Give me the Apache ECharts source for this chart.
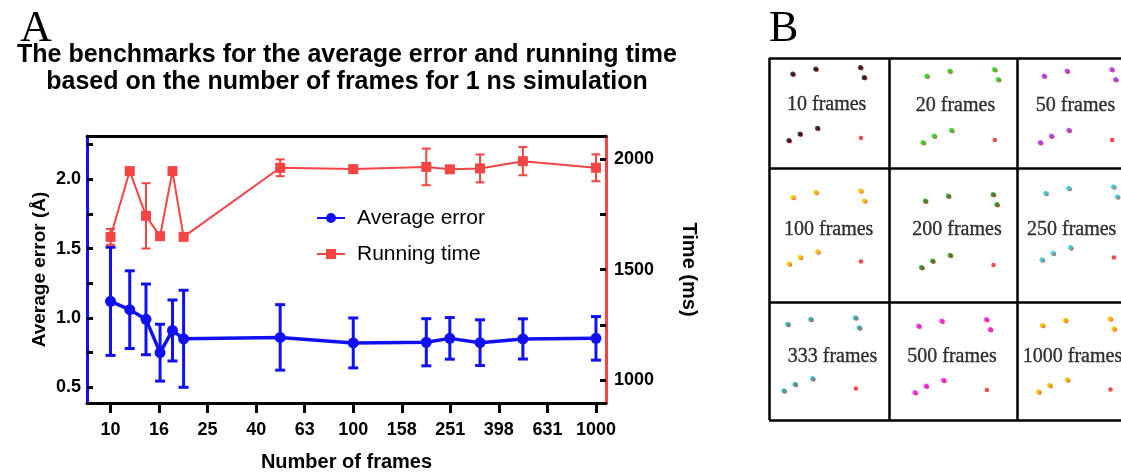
<!DOCTYPE html>
<html><head><meta charset="utf-8">
<script src="https://cdn.jsdelivr.net/npm/echarts@6/dist/echarts.min.js"></script>
<style>html,body{margin:0;padding:0;background:#fff}#c{width:1121px;height:472px}</style>
</head><body><div id="c"></div>
<script>
// ---------------- data ----------------
const frames     = [10, 12, 14, 16, 18, 20, 50, 100, 200, 250, 333, 500, 1000];
const avgError   = [1.12, 1.06, 0.99, 0.75, 0.91, 0.85, 0.86, 0.82, 0.825, 0.853, 0.822, 0.849, 0.853];
const avgErrorSD = [0.39, 0.28, 0.255, 0.205, 0.22, 0.35, 0.236, 0.18, 0.17, 0.15, 0.165, 0.145, 0.157];
const runTime    = [1649, 1947, 1744, 1652, 1947, 1649, 1962, 1956, 1966, 1955, 1959, 1992, 1962];
const runTimeSD  = [36, 4, 148, 4, 4, 4, 38, 4, 83, 8, 63, 64, 61];

const xTickValues = [10, 15.85, 25.12, 39.81, 63.1, 100, 158.5, 251.2, 398.1, 631, 1000];
const xTickLabels = ['10', '16', '25', '40', '63', '100', '158', '251', '398', '631', '1000'];
const errTicks    = [0.5, 0.75, 1, 1.25, 1.5, 1.75, 2, 2.25];
const errLabels   = [0.5, 1, 1.5, 2];
const timeTicks   = [1000, 1250, 1500, 1750, 2000];
const timeLabels  = [1000, 1500, 2000];

const cellLabels = ['10 frames', '20 frames', '50 frames', '100 frames', '200 frames', '250 frames', '333 frames', '500 frames', '1000 frames'];
const cellColors = ['#111111', '#22dd22', '#a040f0', '#f2d600', '#1f8f1f', '#20d8e0', '#1cb4b4', '#ee22ee', '#f5c800'];
// reference atom arrangement (relative to first atom, px units of panel B)
const atomPattern = [[0, 0], [23, -5], [67.7, -6.6], [71.5, 3.5], [-3.8, 66.5], [7.3, 60], [24.8, 54.3], [67.2, 63.3]];

// ---------------- layout (panel B, in panel-B pixel units) ----------------
const cellAnchor = [[23.7, 16], [157.7, 18], [275, 18], [23.7, 139.3], [156.3, 143], [276.7, 135.3], [18.7, 266.3], [149.7, 268], [273.3, 267.3]];
const cellTextPos = [[57.7, 47], [186.5, 48], [306.5, 48], [59.7, 172], [188, 172], [302.7, 172], [63.5, 298.7], [183, 298.7], [303.5, 298.7]];
const colEdges = [0, 120, 248];
const rowEdges = [0, 110, 244, 362];

const BLUE = '#1010f0';
const RED = '#f44545';
const SANS = '"Liberation Sans", Arial, sans-serif';
const SERIF = '"Liberation Serif", "Times New Roman", serif';

function xLabel(v) {
  let best = 0, bd = Infinity;
  xTickValues.forEach((t, i) => { const d = Math.abs(Math.log(v) - Math.log(t)); if (d < bd) { bd = d; best = i; } });
  return xTickLabels[best];
}

function errRender(halfCap, color, width) {
  return function (params, api) {
    const x = api.value(0), lo = api.value(1), hi = api.value(2);
    const pLo = api.coord([x, lo]), pHi = api.coord([x, hi]);
    const style = { stroke: color, lineWidth: width, fill: null };
    return {
      type: 'group', children: [
        { type: 'line', shape: { x1: pLo[0], y1: pLo[1], x2: pHi[0], y2: pHi[1] }, style },
        { type: 'line', shape: { x1: pLo[0] - halfCap, y1: pLo[1], x2: pLo[0] + halfCap, y2: pLo[1] }, style },
        { type: 'line', shape: { x1: pHi[0] - halfCap, y1: pHi[1], x2: pHi[0] + halfCap, y2: pHi[1] }, style }
      ]
    };
  };
}

const errBars = frames.map((f, i) => [f, avgError[i] - avgErrorSD[i], avgError[i] + avgErrorSD[i]]);
const timeBars = frames.map((f, i) => [f, runTime[i] - runTimeSD[i], runTime[i] + runTimeSD[i]]);

// panel B atoms
const predAtoms = [], refAtoms = [];
cellLabels.forEach((lab, c) => {
  const a = cellAnchor[c];
  atomPattern.forEach((p, i) => {
    refAtoms.push({ value: [a[0] + p[0] + 1, a[1] + p[1] + 0.8] });
    if (i < 7) predAtoms.push({ value: [a[0] + p[0], a[1] + p[1]], itemStyle: { color: cellColors[c] } });
  });
});
const cellText = cellLabels.map((lab, c) => ({ value: cellTextPos[c], name: lab }));

const chart = echarts.init(document.getElementById('c'), null, { renderer: 'canvas' });
chart.setOption({
  animation: false,
  backgroundColor: '#fff',
  graphic: [
    { type: 'text', x: 20, y: 29, style: { text: 'A', font: '44px ' + SERIF, fill: '#000', verticalAlign: 'middle' } },
    { type: 'text', x: 769, y: 29, style: { text: 'B', font: '44px ' + SERIF, fill: '#000', verticalAlign: 'middle' } },
    { type: 'text', x: 347, y: 69, style: {
        text: 'The benchmarks for the average error and running time\nbased on the number of frames for 1 ns simulation',
        font: 'bold 25px ' + SANS, lineHeight: 27, fill: '#000', align: 'center', verticalAlign: 'middle' } }
  ],
  legend: {
    orient: 'vertical', left: 311, top: 201,
    itemWidth: 28, itemHeight: 12.5, itemGap: 12,
    data: ['Average error', 'Running time'],
    textStyle: { fontSize: 21, fontFamily: SANS, color: '#000', lineHeight: 24, padding: [0, 0, 0, 7] }
  },
  grid: [
    { left: 87, top: 136, width: 519, height: 267, outerBoundsMode: 'none', containLabel: false },
    { left: 769, top: 58, width: 376, height: 362, outerBoundsMode: 'none', containLabel: false, show: false }
  ],
  xAxis: [
    {
      type: 'log', logBase: 10, gridIndex: 0, position: 'bottom', min: 8, max: 1100,
      axisLine: { show: true, onZero: false, lineStyle: { color: '#000', width: 3 } },
      axisTick: { show: true, customValues: xTickValues, length: 10, lineStyle: { color: '#000', width: 3 } },
      axisLabel: { customValues: xTickValues, formatter: xLabel, color: '#000', fontWeight: 'bold', fontSize: 18, fontFamily: SANS, margin: 18 },
      splitLine: { show: false }, minorTick: { show: false },
      name: 'Number of frames', nameLocation: 'middle', nameGap: 49,
      nameTextStyle: { color: '#000', fontWeight: 'bold', fontSize: 20, fontFamily: SANS }
    },
    {
      type: 'log', logBase: 10, gridIndex: 0, position: 'top', min: 8, max: 1100,
      axisLine: { show: true, onZero: false, lineStyle: { color: '#000', width: 3 } },
      axisTick: { show: false }, axisLabel: { show: false }, splitLine: { show: false }
    },
    { type: 'value', gridIndex: 1, min: 0, max: 376, show: false, splitLine: { show: false } }
  ],
  yAxis: [
    {
      type: 'value', gridIndex: 0, position: 'left', min: 0.387, max: 2.312,
      axisLine: { show: true, onZero: false, lineStyle: { color: BLUE, width: 3 } },
      axisTick: { show: true, inside: true, customValues: errTicks, length: 6, lineStyle: { color: '#000', width: 3 } },
      axisLabel: { customValues: errLabels, formatter: v => v.toFixed(1), color: '#000', fontWeight: 'bold', fontSize: 18, fontFamily: SANS, margin: 6 },
      splitLine: { show: false },
      name: 'Average error (Å)', nameLocation: 'middle', nameGap: 38, nameRotate: 90,
      nameTextStyle: { color: '#000', fontWeight: 'bold', fontSize: 19, fontFamily: SANS }
    },
    {
      type: 'value', gridIndex: 0, position: 'right', min: 896, max: 2106,
      axisLine: { show: true, onZero: false, lineStyle: { color: RED, width: 3 } },
      axisTick: { show: true, inside: true, customValues: timeTicks, length: 6, lineStyle: { color: '#000', width: 3 } },
      axisLabel: { customValues: timeLabels, formatter: v => String(Math.round(v)), color: '#000', fontWeight: 'bold', fontSize: 18, fontFamily: SANS, margin: 8 },
      splitLine: { show: false },
      name: 'Time (ms)', nameLocation: 'middle', nameGap: 73, nameRotate: -90,
      nameTextStyle: { color: '#000', fontWeight: 'bold', fontSize: 20, fontFamily: SANS }
    },
    { type: 'value', gridIndex: 1, min: 0, max: 362, inverse: true, show: false, splitLine: { show: false } }
  ],
  series: [
    {
      name: 'Average error bars', type: 'custom', xAxisIndex: 0, yAxisIndex: 0,
      renderItem: errRender(5, BLUE, 3), data: errBars, encode: { x: 0, y: [1, 2] }, z: 2, silent: true
    },
    {
      name: 'Running time bars', type: 'custom', xAxisIndex: 0, yAxisIndex: 1,
      renderItem: errRender(4.5, RED, 2), data: timeBars, encode: { x: 0, y: [1, 2] }, z: 2, silent: true
    },
    {
      name: 'Average error', type: 'line', xAxisIndex: 0, yAxisIndex: 0,
      data: frames.map((f, i) => [f, avgError[i]]),
      symbol: 'circle', symbolSize: 11, showAllSymbol: true,
      lineStyle: { color: BLUE, width: 3.5 }, itemStyle: { color: BLUE }, z: 3
    },
    {
      name: 'Running time', type: 'line', xAxisIndex: 0, yAxisIndex: 1,
      data: frames.map((f, i) => [f, runTime[i]]),
      symbol: 'rect', symbolSize: 10, showAllSymbol: true,
      lineStyle: { color: RED, width: 2 }, itemStyle: { color: RED }, z: 3
    },
    {
      name: 'ref atoms', type: 'scatter', xAxisIndex: 2, yAxisIndex: 2,
      data: refAtoms, symbolSize: 4.5, itemStyle: { color: '#f01c1c' }, z: 2, silent: true
    },
    {
      name: 'pred atoms', type: 'scatter', xAxisIndex: 2, yAxisIndex: 2,
      data: predAtoms, symbolSize: 5, z: 3, silent: true
    },
    {
      name: 'cell labels', type: 'scatter', xAxisIndex: 2, yAxisIndex: 2,
      data: cellText, symbolSize: 1, itemStyle: { color: 'rgba(0,0,0,0)' }, silent: true,
      label: { show: true, position: 'inside', formatter: p => p.name, color: '#000', fontSize: 20, fontFamily: SERIF,
               textBorderColor: '#000', textBorderWidth: 0.35 },
      markLine: {
        silent: true, symbol: 'none', label: { show: false },
        lineStyle: { color: '#000', width: 2.5, type: 'solid' },
        data: colEdges.map(v => ({ xAxis: v })).concat(rowEdges.map(v => ({ yAxis: v })))
      }
    }
  ]
});
</script>
</body></html>
